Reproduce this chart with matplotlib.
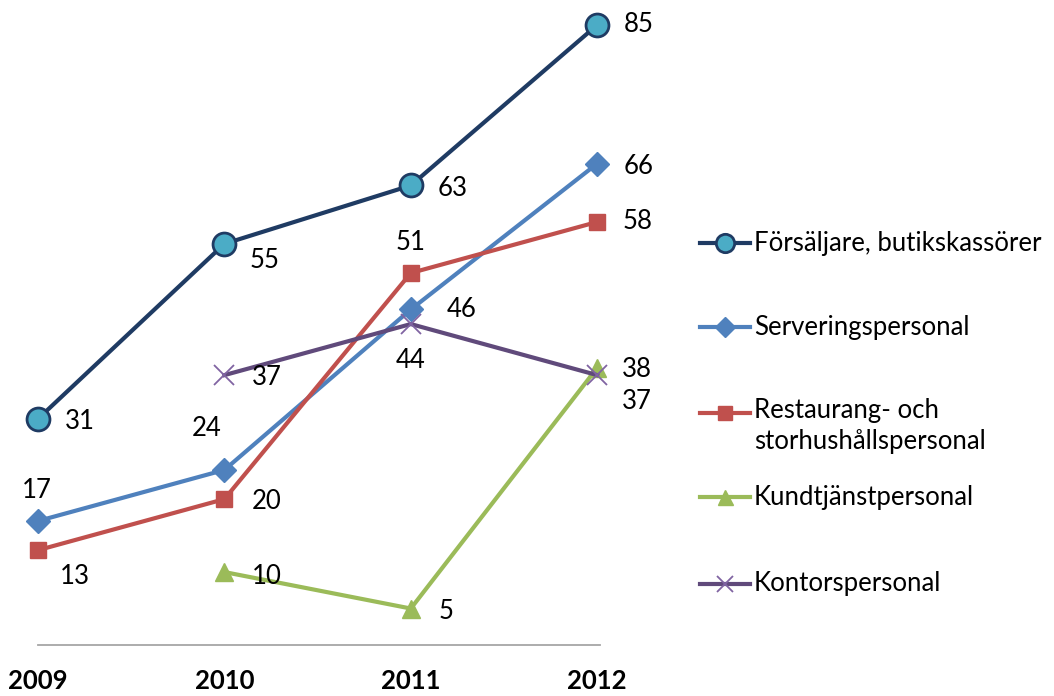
import matplotlib
matplotlib.use("Agg")
import matplotlib.pyplot as plt
from matplotlib.lines import Line2D
import numpy as np

years = ["2009", "2010", "2011", "2012"]
names = ["Försäljare, butikskassörer", "Serveringspersonal",
         "Restaurang- och\nstorhushållspersonal", "Kundtjänstpersonal",
         "Kontorspersonal"]
forsaljare = [31, 55, 63, 85]
servering = [17, 24, 46, 66]
restaurang = [13, 20, 51, 58]
kundtjanst = [np.nan, 10, 5, 38]
kontor = [np.nan, 37, 44, 37]

plt.rcParams['font.family'] = ['Lato', 'DejaVu Sans']

W, H = 1054, 696
FS = 18.5
fig = plt.figure(figsize=(W / 100, H / 100), dpi=100)
# axes in pixel terms: x 38..600, y 25..645
ax = fig.add_axes([38 / W, (H - 645) / H, (600 - 38) / W, 620 / H])
ax.set_xlim(0, 3.015)
ax.set_ylim(0, 85)

styles = [
    dict(color="#1F3B63", marker="o", ms=16.5, mfc="#4BACC6", mec="#1F3B63", mew=2),
    dict(color="#4F81BD", marker="D", ms=12.5, mfc="#4F81BD", mec="#4F81BD", mew=1),
    dict(color="#C0504D", marker="s", ms=12, mfc="#C0504D", mec="#C0504D", mew=1),
    dict(color="#9BBB59", marker="^", ms=13.5, mfc="#9BBB59", mec="#9BBB59", mew=1),
    dict(color="#604A7B", marker="x", ms=14, mfc="none", mec="#8064A2", mew=1.3),
]
series = [forsaljare, servering, restaurang, kundtjanst, kontor]
x = np.arange(len(years))

for vals, st in zip(series, styles):
    ax.plot(x, vals, lw=3, clip_on=False, zorder=3, **st)

# value labels: (dx, dy) offsets in points, ha
offsets = [
    [(19, -2, "left"), (18, -12, "left"), (19, -2, "left"), (19, 0, "left")],
    [(-1, 22, "center"), (-13, 30, "center"), (26, 0, "left"), (19, -2, "left")],
    [(16, -19, "left"), (20, -2, "left"), (0, 22, "center"), (18, 0, "left")],
    [None, (20, -3, "left"), (20, -2, "left"), (18, -1, "left")],
    [None, (20, -2, "left"), (0, -26, "center"), (18, -19, "left")],
]
for vals, offs in zip(series, offsets):
    for xi, v, o in zip(x, vals, offs):
        if o is None or np.isnan(v):
            continue
        ax.annotate(f"{v:.0f}", (xi, v), xytext=(o[0], o[1]),
                    textcoords="offset points", ha=o[2], va="center",
                    fontsize=FS, color="black", zorder=5, annotation_clip=False)

for s in ["top", "right", "left"]:
    ax.spines[s].set_visible(False)
ax.spines["bottom"].set_color("#A6A6A6")
ax.spines["bottom"].set_linewidth(1.3)
ax.set_yticks([])
ax.set_xticks(x)
ax.set_xticklabels(years, fontsize=FS, fontweight="bold")
ax.tick_params(axis="x", length=0, pad=17)

# legend drawn at fixed spots to the right
leg_y = [243, 327, 413, 497, 584]
for name, st, yy in zip(names, styles, leg_y):
    fy = (H - yy) / H
    fig.add_artist(Line2D([700 / W, 750 / W], [fy, fy], transform=fig.transFigure,
                          lw=3, color=st["color"]))
    fig.add_artist(Line2D([725 / W], [fy], transform=fig.transFigure, lw=0,
                          marker=st["marker"], ms=st["ms"] * 0.8, mfc=st["mfc"],
                          mec=st["mec"], mew=st["mew"]))
    if "\n" in name:
        fig.text(754 / W, (H - yy + 15) / H, name, ha="left", va="top",
                 fontsize=FS, linespacing=1.3)
    else:
        fig.text(754 / W, fy, name, ha="left", va="center", fontsize=FS)

fig.savefig("out.png", dpi=100)
